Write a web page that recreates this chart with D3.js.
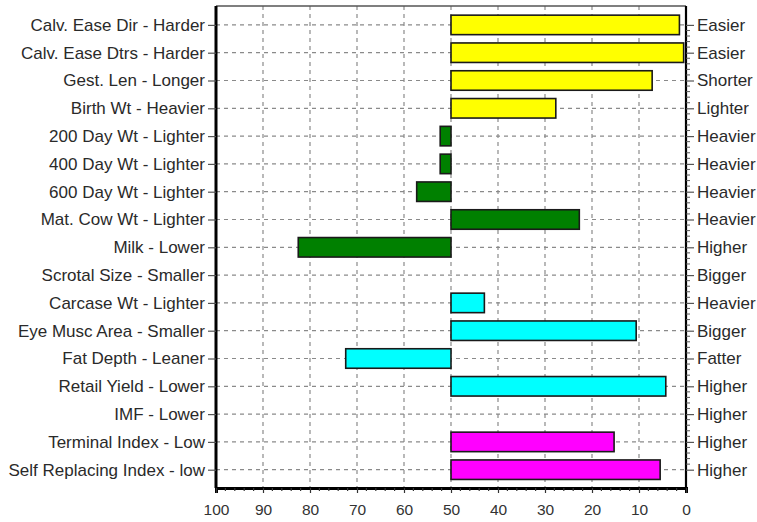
<!DOCTYPE html>
<html>
<head>
<meta charset="utf-8">
<script src="https://cdn.jsdelivr.net/npm/d3@7"></script>
<style>
  body { margin: 0; background: #fff; }
  text { font-family: "Liberation Sans", Arial, sans-serif; }
</style>
</head>
<body>
<div id="chart"></div>
<script>
// trait names (left) and the favourable direction (right)
const categories = [
  "Calv. Ease Dir - Harder", "Calv. Ease Dtrs - Harder", "Gest. Len - Longer",
  "Birth Wt - Heavier", "200 Day Wt - Lighter", "400 Day Wt - Lighter",
  "600 Day Wt - Lighter", "Mat. Cow Wt - Lighter", "Milk - Lower",
  "Scrotal Size - Smaller", "Carcase Wt - Lighter", "Eye Musc Area - Smaller",
  "Fat Depth - Leaner", "Retail Yield - Lower", "IMF - Lower",
  "Terminal Index - Low", "Self Replacing Index - low"
];
const rightLabels = [
  "Easier", "Easier", "Shorter", "Lighter", "Heavier", "Heavier", "Heavier",
  "Heavier", "Higher", "Bigger", "Heavier", "Bigger", "Fatter", "Higher",
  "Higher", "Higher", "Higher"
];
// percentile band values, bars start at 50
const values = [1.4, 0.5, 7.2, 27.7, 52.3, 52.3, 57.3, 22.7, 82.5, 50, 42.9, 10.6, 72.4, 4.3, 50, 15.3, 5.5];
const barColors = [
  "#ffff00", "#ffff00", "#ffff00", "#ffff00",
  "#008000", "#008000", "#008000", "#008000", "#008000", "#008000",
  "#00ffff", "#00ffff", "#00ffff", "#00ffff", "#00ffff",
  "#ff00ff", "#ff00ff"
];
const xTicks = [100, 90, 80, 70, 60, 50, 40, 30, 20, 10, 0];
const baseline = 50;

const W = 757, H = 522;
const pLeft = 216, pRight = 686, pTop = 6, pBottom = 488;

const svg = d3.select("#chart").append("svg")
  .attr("width", W).attr("height", H);

const x = d3.scaleLinear().domain([100, 0]).range([pLeft, pRight]);
const y = d3.scalePoint().domain(categories).range([11, 483.6]).padding(0.5);
const barH = 19.5;

// grid
const grid = svg.append("g").attr("stroke", "#8a8a8a").attr("stroke-width", 1.2)
  .attr("stroke-dasharray", "4,4");
grid.selectAll("line.h").data(categories).enter().append("line")
  .attr("x1", pLeft).attr("x2", pRight)
  .attr("y1", d => y(d)).attr("y2", d => y(d));
grid.selectAll("line.v").data(xTicks.filter(d => d > 0 && d < 100)).enter().append("line")
  .attr("x1", d => x(d)).attr("x2", d => x(d))
  .attr("y1", pTop).attr("y2", pBottom);

// bars
svg.append("g").selectAll("rect").data(categories).enter().append("rect")
  .filter((d, i) => values[i] !== baseline)
  .attr("x", d => x(Math.max(values[categories.indexOf(d)], baseline)))
  .attr("width", d => Math.abs(x(values[categories.indexOf(d)]) - x(baseline)))
  .attr("y", d => y(d) - barH / 2)
  .attr("height", barH)
  .attr("fill", d => barColors[categories.indexOf(d)])
  .attr("stroke", "#1a1a1a")
  .attr("stroke-width", 1.6);

// frame
svg.append("line").attr("x1", pLeft).attr("x2", pRight).attr("y1", pTop).attr("y2", pTop)
  .attr("stroke", "#555").attr("stroke-width", 1.5);
svg.append("line").attr("x1", pRight).attr("x2", pRight).attr("y1", pTop).attr("y2", pBottom)
  .attr("stroke", "#000").attr("stroke-width", 2.2);

// bottom axis
const xAxis = d3.axisBottom(x).tickValues(xTicks).tickSize(5).tickPadding(11);
const gx = svg.append("g").attr("transform", `translate(0,${pBottom})`).call(xAxis);
gx.select(".domain").attr("stroke", "#000").attr("stroke-width", 3);
gx.selectAll(".tick line").attr("stroke", "#333").attr("stroke-width", 1.2);
gx.selectAll("text").attr("font-size", 15.5).attr("fill", "#333");
const minorX = d3.range(0, 101, 2).filter(d => d % 10 !== 0);
gx.selectAll("line.minor").data(minorX).enter().append("line")
  .attr("x1", d => x(d)).attr("x2", d => x(d)).attr("y1", 0).attr("y2", 3)
  .attr("stroke", "#333").attr("stroke-width", 1.2);

// left axis
const yAxis = d3.axisLeft(y).tickSize(8).tickPadding(3);
const gy = svg.append("g").attr("transform", `translate(${pLeft},0)`).call(yAxis);
gy.select(".domain").attr("d", `M0,${pTop}V${pBottom}`).attr("stroke", "#000").attr("stroke-width", 3);
gy.selectAll(".tick line").attr("stroke", "#555").attr("stroke-width", 1.2);
gy.selectAll("text").attr("font-size", 17).attr("fill", "#2a2a2a");

// right axis with direction labels
const yRight = d3.axisRight(y).tickSize(8).tickPadding(3)
  .tickFormat((d, i) => rightLabels[i]);
const gr = svg.append("g").attr("transform", `translate(${pRight},0)`).call(yRight);
gr.select(".domain").remove();
gr.selectAll(".tick line").attr("stroke", "#555").attr("stroke-width", 1.2);
gr.selectAll("text").attr("font-size", 17).attr("fill", "#2a2a2a");
const minorY = [];
categories.slice(0, -1).forEach((d, i) => {
  for (let k = 1; k < 5; k++) minorY.push(y(d) + k * y.step() / 5);
});
gr.selectAll("line.minor").data(minorY).enter().append("line")
  .attr("x1", 0).attr("x2", 4).attr("y1", d => d).attr("y2", d => d)
  .attr("stroke", "#555").attr("stroke-width", 1);
</script>
</body>
</html>
